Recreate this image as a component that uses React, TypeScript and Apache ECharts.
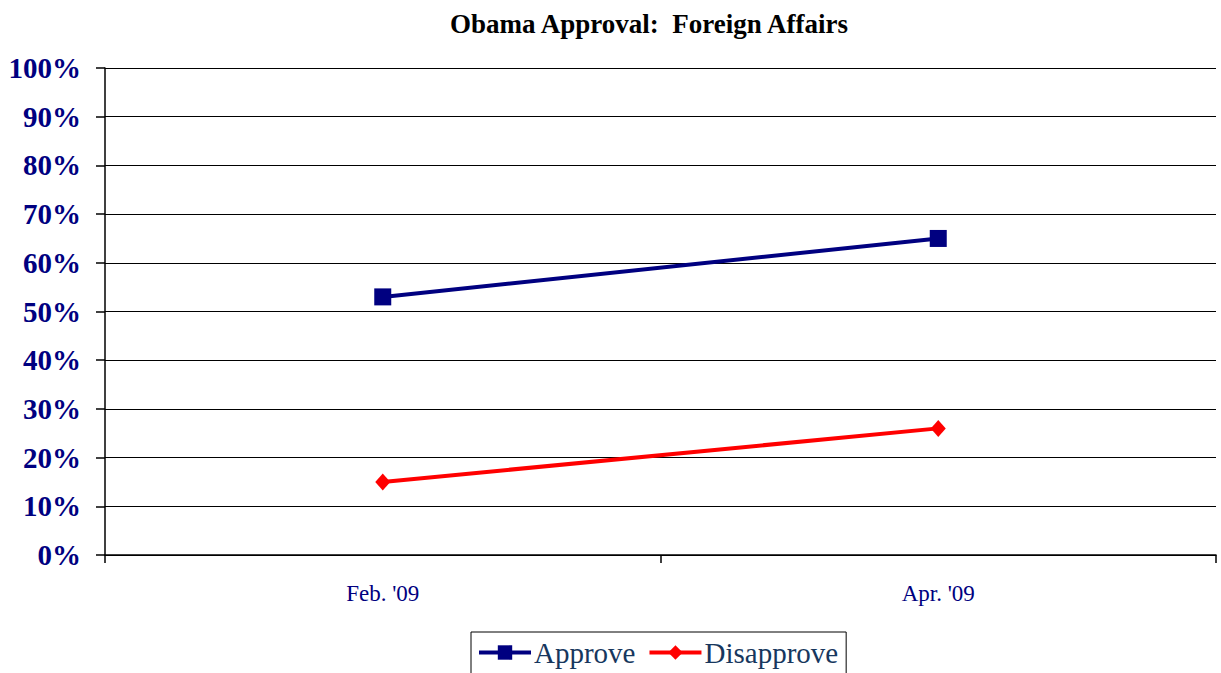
import React, { useEffect, useRef } from "react";
import * as echarts from "echarts";

const categories = ["Feb. '09", "Apr. '09"];
const approve = [53, 65];
const disapprove = [15, 26];
const yTicks = [0, 10, 20, 30, 40, 50, 60, 70, 80, 90, 100];

export default function App() {
  const ref = useRef<HTMLDivElement>(null);
  useEffect(() => {
    const chart = echarts.init(ref.current!, null, { renderer: "svg" });
    const font = "'Liberation Serif', 'Times New Roman', serif";
    chart.setOption({
      animation: false,
      backgroundColor: "#ffffff",
      title: {
        text: "Obama Approval:  Foreign Affairs",
        left: 644,
        textAlign: "center",
        top: 5,
        textStyle: { fontFamily: font, fontWeight: "bold", fontSize: 27, color: "#000000" },
      },
      legend: {
        top: 632,
        left: 471,
        padding: [6, 8, 8, 6],
        borderColor: "#000000",
        borderWidth: 1,
        itemWidth: 52,
        itemHeight: 18,
        itemGap: 12,
        lineStyle: { width: 4 },
        textStyle: { fontFamily: font, fontSize: 29, color: "#17375E", padding: [0, 0, 0, -2] },
        data: ["Approve", "Disapprove"],
      },
      grid: { left: 105, right: 5, top: 68, bottom: 118, containLabel: false },
      xAxis: {
        type: "category",
        data: categories,
        boundaryGap: true,
        axisLine: { lineStyle: { color: "#000000", width: 1.5 } },
        axisTick: { show: true, length: 8, lineStyle: { color: "#000000", width: 1.5 } },
        axisLabel: { margin: 27, fontFamily: font, fontSize: 23, color: "#000080" },
        splitLine: { show: false },
      },
      yAxis: {
        type: "value",
        min: yTicks[0],
        max: yTicks[yTicks.length - 1],
        interval: 10,
        axisLine: { show: true, lineStyle: { color: "#000000", width: 1.5 } },
        axisTick: { show: true, length: 9, lineStyle: { color: "#000000", width: 1.5 } },
        axisLabel: {
          margin: 24,
          fontFamily: font,
          fontSize: 29,
          fontWeight: "bold",
          color: "#000080",
          formatter: "{value}%",
        },
        splitLine: { show: true, lineStyle: { color: "#000000", width: 1 } },
      },
      series: [
        {
          name: "Approve",
          type: "line",
          data: approve,
          symbol: "rect",
          symbolSize: 17,
          lineStyle: { color: "#000080", width: 4 },
          itemStyle: { color: "#000080" },
        },
        {
          name: "Disapprove",
          type: "line",
          data: disapprove,
          symbol: "diamond",
          symbolSize: [15, 17],
          lineStyle: { color: "#FF0000", width: 4 },
          itemStyle: { color: "#FF0000" },
        },
      ],
    });
    return () => chart.dispose();
  }, []);
  return <div ref={ref} style={{ width: 1221, height: 673, position: "absolute", left: 0, top: 0 }} />;
}
